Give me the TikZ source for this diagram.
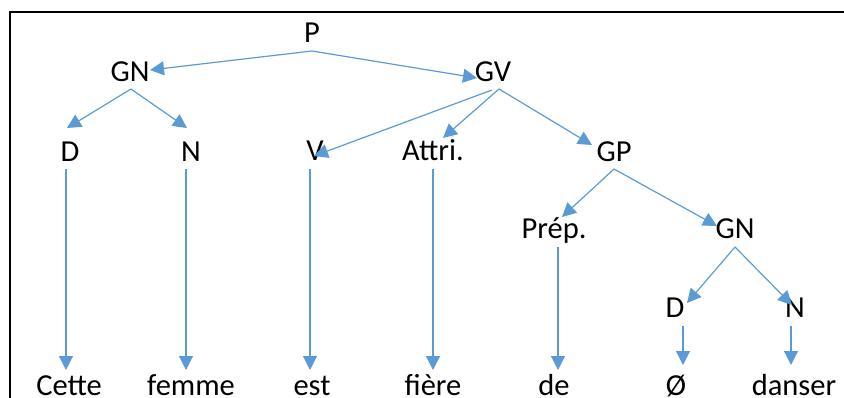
\documentclass[tikz,border=0pt]{standalone}
\usepackage{fontspec}
\setmainfont{Carlito}
\usetikzlibrary{arrows.meta}
\definecolor{arrblue}{HTML}{5B9BD5}
\begin{document}
\begin{tikzpicture}[x=1pt,y=-1pt,
  lab/.style={anchor=base,inner sep=0pt,font=\fontsize{30.5}{36}\selectfont},
  arr/.style={draw=arrblue,line width=1.2pt,-{Triangle[length=14pt,width=14pt]},arrblue}]
\useasboundingbox (0,0) rectangle (844,398);
\draw[line width=2pt] (9,12) -- (844,12);
\draw[line width=2pt] (10,11) -- (10,398);
% nodes
\node[lab] (P) at (312,43) {P};
\node[lab] (GN1) at (130,82) {GN};
\node[lab] (GV) at (493,82) {GV};
\node[lab] (D1) at (70,162) {D};
\node[lab] (N1) at (191,162) {N};
\node[lab] (V) at (315,161) {V};
\node[lab] (At) at (433,161) {Attri.};
\node[lab] (GP) at (614,162) {GP};
\node[lab] (Pr) at (554,239) {Prép.};
\node[lab] (GN2) at (735,239) {GN};
\node[lab] (D2) at (675,317) {D};
\node[lab] (N2) at (795,317) {N};
\node[lab] (w1) at (69,395) {Cette};
\node[lab] (w2) at (191,395) {femme};
\node[lab] (w3) at (312,395) {est};
\node[lab] (w4) at (433,395) {fière};
\node[lab] (w5) at (554,395) {de};
\node[lab] (w6) at (676,395) {Ø};
\node[lab] (w7) at (794,395) {danser};
% connectors
\draw[arr] ([shift={(0,8)}]P.base) -- ([shift={(20,-12)}]GN1.base);
\draw[arr] ([shift={(0,8)}]P.base) -- ([shift={(-16,-4)}]GV.base);
\draw[arr] ([shift={(1,7)}]GN1.base) -- ([shift={(-3,-34)}]D1.base);
\draw[arr] ([shift={(1,7)}]GN1.base) -- ([shift={(-4,-34)}]N1.base);
\draw[arr] ([shift={(-1,8)}]GV.base) -- ([shift={(-1,-5)}]V.base);
\draw[arr] ([shift={(6,7)}]GV.base) -- ([shift={(10,-23)}]At.base);
\draw[arr] ([shift={(6,7)}]GV.base) -- ([shift={(-22,-17)}]GP.base);
\draw[arr] ([shift={(0,7)}]GP.base) -- ([shift={(8,-22)}]Pr.base);
\draw[arr] ([shift={(0,7)}]GP.base) -- ([shift={(-18,-13)}]GN2.base);
\draw[arr] ([shift={(0,8)}]GN2.base) -- ([shift={(12,-14)}]D2.base);
\draw[arr] ([shift={(0,8)}]GN2.base) -- ([shift={(-3,-12)}]N2.base);
\draw[arr] ([shift={(-4,7)}]D1.base) -- ([shift={(-3,-25)}]w1.base);
\draw[arr] ([shift={(-5,7)}]N1.base) -- ([shift={(-5,-25)}]w2.base);
\draw[arr] ([shift={(-5,8)}]V.base) -- ([shift={(-2,-25)}]w3.base);
\draw[arr] ([shift={(0,8)}]At.base) -- ([shift={(0,-25)}]w4.base);
\draw[arr] ([shift={(4,8)}]Pr.base) -- ([shift={(4,-25)}]w5.base);
\draw[arr] ([shift={(8,9)}]D2.base) -- ([shift={(7,-30)}]w6.base);
\draw[arr] ([shift={(-4,9)}]N2.base) -- ([shift={(-3,-30)}]w7.base);
\end{tikzpicture}
\end{document}
